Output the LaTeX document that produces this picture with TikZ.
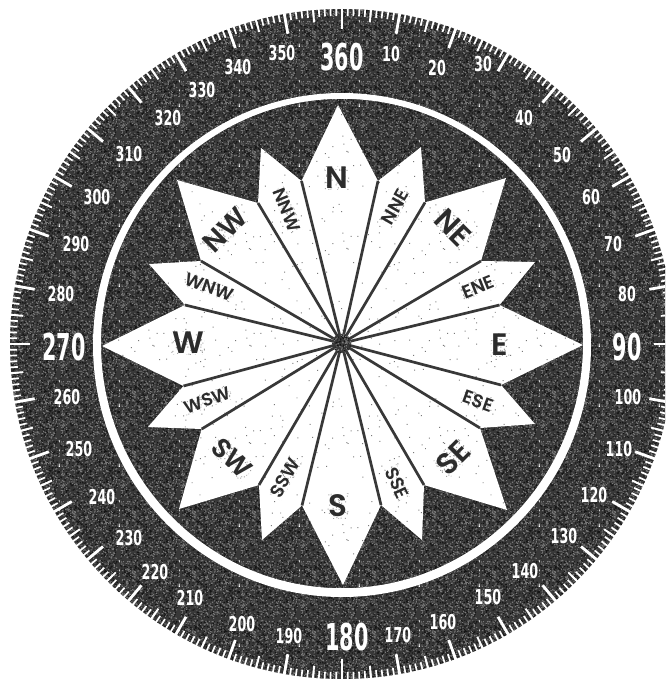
\documentclass[tikz,border=0pt]{standalone}
\usepackage{fontspec}
\usetikzlibrary{patterns}
\newfontfamily\numfont[FakeStretch=0.62]{DejaVu Sans}
\newfontfamily\bignumfont[FakeStretch=0.56]{DejaVu Sans}
\newfontfamily\petalfont{Poppins SemiBold}
\definecolor{dk}{HTML}{383838}
\definecolor{sa}{HTML}{141414}
\definecolor{sb}{HTML}{7A7A7A}
\definecolor{ink}{HTML}{2C2C2C}
\pgfmathsetseed{4711}
\pgfdeclarepatterninherentlycolored{noisedark}{\pgfqpoint{0pt}{0pt}}{\pgfqpoint{60pt}{60pt}}{\pgfqpoint{60pt}{60pt}}{%
  \pgfsetfillcolor{sa}\foreach \k in {1,...,650}{\pgfmathsetmacro\a{rnd*59}\pgfmathsetmacro\b{rnd*59}\pgfpathrectangle{\pgfqpoint{\a pt}{\b pt}}{\pgfqpoint{1.1pt}{1.1pt}}}\pgfusepath{fill}%
  \pgfsetfillcolor{sb}\foreach \k in {1,...,550}{\pgfmathsetmacro\a{rnd*59}\pgfmathsetmacro\b{rnd*59}\pgfpathrectangle{\pgfqpoint{\a pt}{\b pt}}{\pgfqpoint{1.1pt}{1.1pt}}}\pgfusepath{fill}%
}
\pgfdeclarepatterninherentlycolored{paper}{\pgfqpoint{0pt}{0pt}}{\pgfqpoint{97pt}{97pt}}{\pgfqpoint{97pt}{97pt}}{%
  \pgfsetfillcolor{sb}\foreach \k in {1,...,45}{\pgfmathsetmacro\a{rnd*96}\pgfmathsetmacro\b{rnd*96}\pgfpathrectangle{\pgfqpoint{\a pt}{\b pt}}{\pgfqpoint{1pt}{1pt}}}\pgfusepath{fill}%
}
\pgfdeclarepatterninherentlycolored{stipple}{\pgfqpoint{0pt}{0pt}}{\pgfqpoint{60pt}{60pt}}{\pgfqpoint{60pt}{60pt}}{%
  \pgfsetfillcolor{sb!70}\foreach \k in {1,...,300}{\pgfmathsetmacro\a{rnd*59}\pgfmathsetmacro\b{rnd*59}\pgfpathrectangle{\pgfqpoint{\a pt}{\b pt}}{\pgfqpoint{1pt}{1pt}}}\pgfusepath{fill}%
}
\tikzset{
  numsmall/.style={font=\numfont\bfseries\fontsize{20.5}{21}\selectfont,text=white,inner sep=0pt},
  numbig/.style={font=\bignumfont\bfseries\fontsize{37}{38}\selectfont,text=white,inner sep=0pt},
  petallab/.style={font=\petalfont\fontsize{#1}{#1}\selectfont,text=ink,inner sep=1pt,preaction={pattern=stipple}},
  spoke/.style={draw=dk,line width=2.7pt},
  tickone/.style={draw=white,line width=1.7pt},
  tickfive/.style={draw=white,line width=1.9pt},
  tickten/.style={draw=white,line width=2.8pt}
}
\begin{document}
\begin{tikzpicture}[x=1pt,y=-1pt]
\useasboundingbox (0,0) rectangle (665,679);
\clip (0,0) rectangle (665,679);
\fill[white] (0,0) rectangle (665,679);
% graduated disc
\fill[dk] (342,344) ellipse [x radius=332,y radius=335];
\fill[pattern=noisedark] (342,344) ellipse [x radius=332,y radius=335];
\foreach \d in {0,...,359}
  \draw[tickone] ({342+334*sin(\d)},{344-337*cos(\d)}) -- ({342+325*sin(\d)},{344-328*cos(\d)});
\foreach \d in {5,15,...,355}
  \draw[tickfive] ({342+334*sin(\d)},{344-337*cos(\d)}) -- ({342+320*sin(\d)},{344-323*cos(\d)});
\foreach \d in {0,10,...,350}
  \draw[tickten] ({342+334*sin(\d)},{344-337*cos(\d)}) -- ({342+312*sin(\d)},{344-315*cos(\d)});
% white ring
\fill[white,even odd rule] (342,345) ellipse [x radius=249,y radius=252]
  (342,343.5) ellipse [x radius=241,y radius=244.7];
% degree numbers
\foreach \t/\x/\y in {10/391/54,20/437/68,30/483/64,40/524/118,50/562/155,60/591/197,70/613/244,80/627/294,
  100/628/397,110/619/449,120/594/495,130/564/536,140/525/571,150/488/597,160/443/622,170/398/635,
  190/289/636,200/242/624,210/190/598,220/155/572,230/129/538,240/102/497,250/79/449,260/67/397,
  280/61/294,290/76/244,300/97/197,310/129/154,320/168/118,330/202/90,340/238/67,350/282/53}
  \node[numsmall] (deg\t) at (\x,\y) {\t};
\node[numbig] (deg360) at (342,57) {360};
\node[numbig] (deg90) at (627,347) {90};
\node[numbig] (deg180) at (347,637) {180};
\node[numbig] (deg270) at (64,347) {270};
% rose
\coordinate (c) at (341.7,343.3);
\foreach \i/\tx/\ty/\sx/\sy in {1/338/105/378/181,2/421/147/425/202.5,3/506/178/481/261,4/535/262/499.5/305,
  5/583/345/501/385,6/535/424/480/428,7/507/510/424/485,8/422/540/381/505,9/343/585/302/505.5,
  10/262/540/259/485,11/179/509/201.7/429,12/148/427/183.5/386,13/102/346/185/305,14/149/264/201/261,
  15/177/180/258/203,16/261/148/301.5/181}{
  \coordinate (t\i) at (\tx,\ty);
  \coordinate (s\i) at (\sx,\sy);
}
\foreach \i in {1,...,16}{
  \pgfmathtruncatemacro\j{mod(\i+14,16)+1}
  \fill[white] (c) -- (s\j) -- (t\i) -- (s\i) -- cycle;
  \fill[pattern=paper] (c) -- (s\j) -- (t\i) -- (s\i) -- cycle;
}
\foreach \i in {1,...,16}
  \draw[spoke] (c) -- (s\i);
\fill[dk] (c) circle (9.5);
\fill[pattern=noisedark] (c) circle (9.5);
% petal labels
\node[petallab=31] (N) at (337,178) {N};
\node[petallab=31] (E) at (500,345) {E};
\node[petallab=31] (S) at (338,506) {S};
\node[petallab=31] (W) at (188,343) {W};
\node[petallab=30,rotate=-45] (NE) at (453,228) {NE};
\node[petallab=30,rotate=45] (SE) at (453,458) {SE};
\node[petallab=27,rotate=-45] (SW) at (232,458) {SW};
\node[petallab=28,rotate=45] (NW) at (225,230) {NW};
\node[petallab=18.5,rotate=60] (NNE) at (395,207) {NNE};
\node[petallab=18.5,rotate=22] (ENE) at (478,287) {ENE};
\node[petallab=18.5,rotate=-20] (ESE) at (478,401) {ESE};
\node[petallab=18.5,rotate=-65] (SSE) at (397,483) {SSE};
\node[petallab=18.5,rotate=60] (SSW) at (285,478) {SSW};
\node[petallab=18,rotate=20] (WSW) at (207,400) {WSW};
\node[petallab=18,rotate=-20] (WNW) at (209,287) {WNW};
\node[petallab=18,rotate=-68] (NNW) at (287,210) {NNW};
\end{tikzpicture}
\end{document}
